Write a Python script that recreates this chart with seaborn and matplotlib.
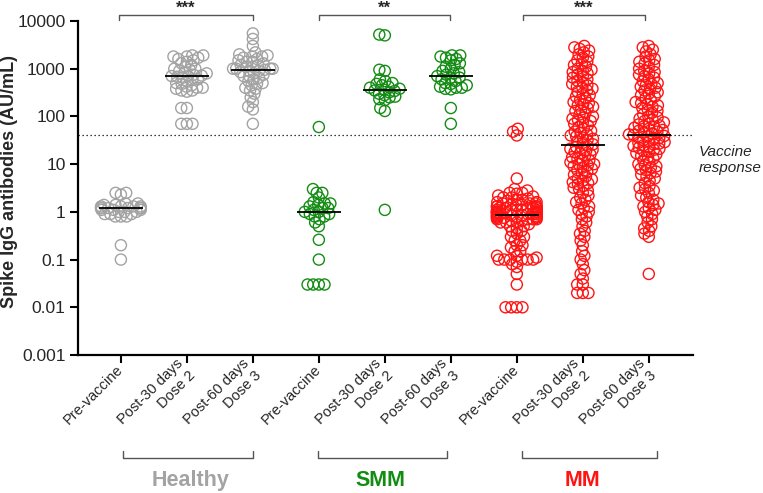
import matplotlib
matplotlib.use("Agg")
import matplotlib.pyplot as plt
import matplotlib.transforms as mtransforms
import numpy as np
import pandas as pd
import seaborn as sns

# x slots: three time points for each of the three cohorts
tick_labels = ["Pre-vaccine", "Post-30 days\nDose 2", "Post-60 days\nDose 3"] * 3
groups = ["Healthy", "SMM", "MM"]
group_colors = ["#a3a3a3", "#148c14", "#ff1414"]
stars = ["***", "**", "***"]

# values (AU/mL)
healthy_pre = [2.5, 2.5, 2.3, 1.5, 1.5, 1.4, 1.4, 1.3, 1.3, 1.3, 1.3, 1.2, 1.2, 1.2, 1.2,
               1.2, 1.2, 1.1, 1.1, 1.1, 1.0, 1.0, 1.0, 0.9, 0.9, 0.9, 0.8, 0.8, 0.8, 0.2, 0.1]
healthy_d2 = [1900, 1900, 1800, 1800, 1700, 1600, 1500, 1400, 1300, 1200, 1100, 1000, 1000,
              950, 900, 850, 800, 750, 720, 700, 700, 680, 650, 600, 580, 550, 500, 480, 450,
              420, 400, 400, 380, 350, 350, 330, 150, 150, 70, 70, 70]
healthy_d3 = [5500, 4200, 3000, 2200, 2000, 1900, 1800, 1800, 1700, 1600, 1500, 1400, 1400,
              1300, 1200, 1200, 1100, 1100, 1000, 1000, 1000, 1000, 950, 900, 900, 850, 800,
              750, 700, 700, 650, 600, 550, 500, 480, 450, 400, 380, 350, 300, 250, 200, 160,
              140, 70]
smm_pre = [60, 3.0, 2.5, 2.5, 2.0, 1.6, 1.5, 1.5, 1.4, 1.3, 1.2, 1.2, 1.1, 1.0, 1.0, 0.9,
           0.9, 0.8, 0.8, 0.7, 0.6, 0.5, 0.26, 0.1, 0.03, 0.03, 0.03, 0.03]
smm_d2 = [5200, 5000, 950, 900, 600, 550, 500, 480, 450, 420, 400, 380, 360, 350, 340, 320,
          300, 280, 260, 250, 230, 220, 150, 130, 1.1]
smm_d3 = [1900, 1900, 1800, 1700, 1600, 1500, 1300, 1200, 1100, 1000, 900, 850, 800, 750,
          700, 650, 650, 600, 550, 500, 480, 450, 420, 400, 400, 380, 370, 150, 70]
mm_pre = [55, 48, 40, 5.0, 3.0, 2.8, 2.5, 2.5, 2.4, 2.2, 2.1, 2.0, 2.0, 1.9, 1.8, 1.8, 1.7,
          1.6, 1.6, 1.5, 1.5, 1.5, 1.4, 1.4, 1.4, 1.3, 1.3, 1.3, 1.3, 1.2, 1.2, 1.2, 1.2, 1.2,
          1.1, 1.1, 1.1, 1.1, 1.1, 1.0, 1.0, 1.0, 1.0, 1.0, 1.0, 1.0, 0.95, 0.95, 0.9, 0.9,
          0.9, 0.9, 0.9, 0.9, 0.85, 0.85, 0.85, 0.8, 0.8, 0.8, 0.8, 0.8, 0.75, 0.75, 0.75,
          0.7, 0.7, 0.7, 0.7, 0.65, 0.65, 0.6, 0.6, 0.6, 0.55, 0.5, 0.5, 0.45, 0.4, 0.4, 0.35,
          0.3, 0.3, 0.25, 0.25, 0.2, 0.2, 0.18, 0.15, 0.15, 0.12, 0.12, 0.11, 0.1, 0.1, 0.1,
          0.1, 0.1, 0.1, 0.09, 0.08, 0.07, 0.05, 0.03, 0.01, 0.01, 0.01, 0.01]
mm_d2 = [3000, 2800, 2600, 2400, 2200, 2000, 1800, 1700, 1500, 1400, 1300, 1200, 1100, 1000,
         950, 900, 850, 800, 750, 700, 650, 600, 560, 520, 480, 450, 420, 400, 380, 350, 330,
         300, 280, 260, 240, 220, 200, 190, 180, 170, 160, 150, 140, 130, 120, 110, 100, 95,
         90, 85, 80, 75, 70, 65, 60, 55, 50, 48, 45, 42, 40, 38, 36, 34, 32, 30, 28, 26,
         24, 23, 22, 21, 20, 19, 18, 17, 16, 15, 14, 13, 12, 12, 11, 10, 10, 9.5, 9, 8.5, 8,
         7.5, 7, 6.5, 6, 5.5, 5, 4.8, 4.5, 4.2, 4, 3.8, 3.5, 3.2, 3, 2.8, 2.5, 2.2, 2, 1.8,
         1.6, 1.5, 1.3, 1.2, 1.1, 1.0, 0.9, 0.8, 0.7, 0.6, 0.5, 0.4, 0.35, 0.3, 0.25, 0.2,
         0.15, 0.12, 0.1, 0.08, 0.06, 0.05, 0.04, 0.03, 0.03, 0.02, 0.02, 0.02]
mm_d3 = [3000, 2800, 2500, 2300, 2000, 1800, 1600, 1500, 1400, 1300, 1200, 1100, 1000, 900,
         850, 800, 750, 700, 650, 600, 550, 500, 480, 450, 420, 400, 380, 350, 320, 300, 280,
         260, 240, 220, 200, 190, 180, 170, 160, 150, 140, 130, 120, 110, 100, 95, 90, 85, 80,
         75, 70, 68, 65, 62, 60, 58, 55, 52, 50, 48, 46, 44, 42, 41,
         39, 38, 36, 35, 34, 32, 30, 29, 28, 27, 26, 25, 24, 23, 22, 21, 20, 19, 18, 17, 16,
         15, 14, 13, 12, 11, 10, 9.5, 9, 8.5, 8, 7.5, 7, 6.5, 6, 5.5, 5, 4.5, 4, 3.5, 3.2, 3,
         2.8, 2.5, 2.2, 2, 1.8, 1.6, 1.5, 1.4, 1.3, 1.2, 1.1, 1.0, 0.9, 0.8, 0.7, 0.6, 0.5,
         0.45, 0.4, 0.35, 0.3, 0.05]
threshold = 40

series = [healthy_pre, healthy_d2, healthy_d3, smm_pre, smm_d2, smm_d3, mm_pre, mm_d2, mm_d3]
rows = []
for slot, vals in enumerate(series):
    for v in vals:
        rows.append({"slot": slot, "group": groups[slot // 3], "value": v})
df = pd.DataFrame(rows)

sns.set_style("ticks")
plt.rcParams["font.family"] = ["Liberation Sans", "DejaVu Sans"]

fig = plt.figure(figsize=(7.63, 4.93), dpi=100)
ax = fig.add_axes([78 / 763, 1 - 355 / 493, 615 / 763, 334 / 493])
ax.set_yscale("log")

# small swarm size only for layout; markers are enlarged afterwards so they overlap
sns.swarmplot(data=df, x="slot", y="value", hue="group", hue_order=groups,
              palette=group_colors, order=list(range(9)), size=4.0,
              warn_thresh=1, ax=ax, legend=False)
fig.canvas.draw()
for coll in ax.collections:
    if "draw" in coll.__dict__:
        del coll.draw
    # keep the swarm a bit narrower than seaborn's default gutter
    offs = np.asarray(coll.get_offsets())
    if len(offs):
        center = np.round(offs[:, 0])
        offs[:, 0] = center + np.clip(offs[:, 0] - center, -0.3, 0.3)
        coll.set_offsets(offs)
    fc = coll.get_facecolors()
    coll.set_edgecolors(fc)
    coll.set_facecolors("none")
    coll.set_linewidths(1.0)
    coll.set_sizes([64])
    coll.set_clip_on(False)

medians = df.groupby("slot")["value"].median()
ax.hlines(medians.values, medians.index - 0.33, medians.index + 0.33,
          color="black", lw=1.3, zorder=5)
ax.axhline(threshold, color="black", ls=(0, (1, 2.2)), lw=0.9, zorder=1)

ax.set_xlim(-0.65, 8.67)
ax.set_ylim(0.001, 10000)
ax.set_yticks([0.001, 0.01, 0.1, 1, 10, 100, 1000, 10000])
ax.set_yticklabels(["0.001", "0.01", "0.1", "1", "10", "100", "1000", "10000"], fontsize=12.5)
ax.minorticks_off()
ax.set_xticks(range(9))
ax.set_xticklabels(tick_labels, rotation=45, ha="right", va="center",
                   rotation_mode="anchor", fontsize=10.5)
ax.tick_params(axis="both", length=6, width=1.5, pad=3, color="black")
ax.set_xlabel("")
ax.set_ylabel("Spike IgG antibodies (AU/mL)", fontsize=13, fontweight="bold")
ax.yaxis.set_label_coords(-0.097, 0.52)
sns.despine(ax=ax)
for side in ["left", "bottom"]:
    ax.spines[side].set_linewidth(1.6)
    ax.spines[side].set_color("black")

trans = mtransforms.blended_transform_factory(ax.transData, ax.transAxes)

# significance brackets on top
top_spans = [(-0.03, 2.0), (3.0, 4.98), (6.09, 7.95)]
for (x0, x1), s in zip(top_spans, stars):
    ax.plot([x0, x0, x1, x1], [1.003, 1.018, 1.018, 1.003], color="#555555", lw=1,
            transform=trans, clip_on=False)
    ax.text((x0 + x1) / 2, 1.037, s, transform=trans, ha="center", va="center",
            fontsize=12, fontweight="bold")

# cohort brackets underneath
bottom_spans = [(0.03, 2.0), (2.98, 4.94), (6.08, 8.12)]
label_x = [1.05, 3.94, 7.0]
for (x0, x1), g, c, lx in zip(bottom_spans, groups, group_colors, label_x):
    ax.plot([x0, x0, x1, x1], [-0.287, -0.308, -0.308, -0.287], color="#555555", lw=1,
            transform=trans, clip_on=False)
    ax.text(lx, -0.375, g, transform=trans, ha="center", va="center", color=c,
            fontsize=15.5, fontweight="bold")

fig.text(699 / 763, 1 - 160 / 493, "Vaccine\nresponse", ha="left", va="center",
         fontsize=11, style="italic", linespacing=1.15)

fig.savefig("out.png", dpi=100)
